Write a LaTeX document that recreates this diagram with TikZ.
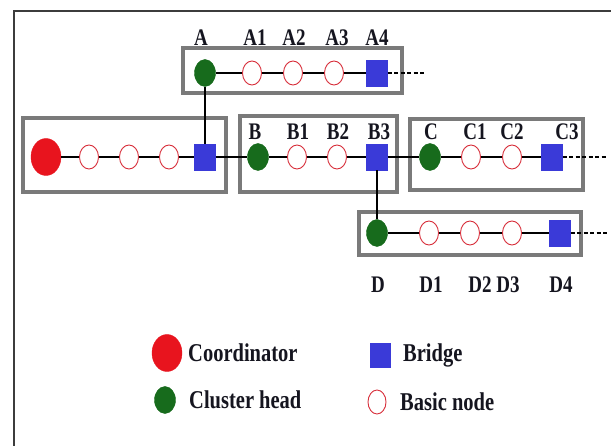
\documentclass[tikz,border=0pt]{standalone}
\usepackage{fontspec}
\setmainfont{Liberation Serif}
\usetikzlibrary{shapes.geometric}
\definecolor{coordred}{HTML}{E8141E}
\definecolor{headgreen}{HTML}{176B1C}
\definecolor{bridgeblue}{HTML}{3A3AD8}
\definecolor{basicred}{HTML}{D8303C}
\definecolor{boxgray}{HTML}{7A7A7A}
\definecolor{framegray}{HTML}{3C3C3C}
\definecolor{inkdark}{HTML}{15151F}
\tikzset{
  coordnode/.style={ellipse, fill=coordred, draw=coordred, minimum width=30pt, minimum height=37pt, inner sep=0pt},
  headnode/.style={ellipse, fill=headgreen, draw=headgreen, minimum width=21pt, minimum height=27pt, inner sep=0pt},
  bridgenode/.style={rectangle, fill=bridgeblue, draw=bridgeblue, minimum width=21pt, minimum height=26pt, inner sep=0pt},
  basicnode/.style={ellipse, fill=white, draw=basicred, line width=0.9pt, minimum width=19pt, minimum height=24pt, inner sep=0pt},
  clusterbox/.style={draw=boxgray, line width=4pt},
  link/.style={draw=black, line width=1.3pt},
  openlink/.style={draw=black, line width=1.3pt, dash pattern=on 4pt off 2.5pt},
  lbl/.style={font=\bfseries\fontsize{19}{19}\selectfont, inner sep=0pt, text=inkdark},
  legendtxt/.style={font=\bfseries\fontsize{20.5}{20.5}\selectfont, inner sep=0pt, anchor=west, text=inkdark},
}
\newcommand{\tall}[1]{\scalebox{1}[1.25]{#1}}
\begin{document}
\begin{tikzpicture}[x=1pt, y=-1pt]
  \useasboundingbox (0,0) rectangle (611,446);
  \fill[white] (0,0) rectangle (611,446);
  % outer frame (top and left edges)
  \draw[framegray, line width=2pt] (14,446) -- (14,11) -- (611,11);

  % cluster boxes
  \draw[clusterbox] (183,48) rectangle (402,93);
  \draw[clusterbox] (23,118) rectangle (226,192);
  \draw[clusterbox] (240,116) rectangle (397,192);
  \draw[clusterbox] (410,119) rectangle (583,190);
  \draw[clusterbox] (359,212) rectangle (581,255);

  % cluster A
  \node[headnode]   (A)  at (205,73) {};
  \node[basicnode]  (A1) at (252,73) {};
  \node[basicnode]  (A2) at (293,73) {};
  \node[basicnode]  (A3) at (334,73) {};
  \node[bridgenode] (A4) at (377,73) {};
  \coordinate (Aend) at (426,73);

  % coordinator cluster
  \node[coordnode]  (K)  at (46,157) {};
  \node[basicnode]  (K1) at (89,157) {};
  \node[basicnode]  (K2) at (129,157) {};
  \node[basicnode]  (K3) at (169,157) {};
  \node[bridgenode] (K4) at (205,157) {};

  % cluster B
  \node[headnode]   (B)  at (258,157) {};
  \node[basicnode]  (B1) at (297,157) {};
  \node[basicnode]  (B2) at (337,157) {};
  \node[bridgenode] (B3) at (377,157) {};

  % cluster C
  \node[headnode]   (C)  at (430,157) {};
  \node[basicnode]  (C1) at (471,157) {};
  \node[basicnode]  (C2) at (512,157) {};
  \node[bridgenode] (C3) at (552,157) {};
  \coordinate (Cend) at (608,157);

  % cluster D
  \node[headnode]   (D)  at (377,233) {};
  \node[basicnode]  (D1) at (429,233) {};
  \node[basicnode]  (D2) at (470,233) {};
  \node[basicnode]  (D3) at (512,233) {};
  \node[bridgenode] (D4) at (560,233) {};
  \coordinate (Dend) at (608,233);

  % links
  \draw[link] (A) -- (A1) -- (A2) -- (A3) -- (A4);
  \draw[openlink] (A4.east) -- (Aend);
  \draw[link] (A.south) -- (K4.north);
  \draw[link] (K) -- (K1) -- (K2) -- (K3) -- (K4) -- (B) -- (B1) -- (B2) -- (B3) -- (C) -- (C1) -- (C2) -- (C3);
  \draw[openlink] (C3.east) -- (Cend);
  \draw[link] (B3.south) -- (D.north);
  \draw[link] (D) -- (D1) -- (D2) -- (D3) -- (D4);
  \draw[openlink] (D4.east) -- (Dend);

  % labels
  \node[lbl] (lA)  at (201,38) {\tall{A}};
  \node[lbl] (lA1) at (255,38) {\tall{A1}};
  \node[lbl] (lA2) at (294,38) {\tall{A2}};
  \node[lbl] (lA3) at (337,38) {\tall{A3}};
  \node[lbl] (lA4) at (377,38) {\tall{A4}};
  \node[lbl] (lB)  at (255,132) {\tall{B}};
  \node[lbl] (lB1) at (298,132) {\tall{B1}};
  \node[lbl] (lB2) at (338,132) {\tall{B2}};
  \node[lbl] (lB3) at (379,132) {\tall{B3}};
  \node[lbl] (lC)  at (431,132) {\tall{C}};
  \node[lbl] (lC1) at (475,132) {\tall{C1}};
  \node[lbl] (lC2) at (512,132) {\tall{C2}};
  \node[lbl] (lC3) at (567,132) {\tall{C3}};
  \node[lbl] (lD)  at (378,285) {\tall{D}};
  \node[lbl] (lD1) at (431,285) {\tall{D1}};
  \node[lbl] (lD2) at (480,285) {\tall{D2}};
  \node[lbl] (lD3) at (508,285) {\tall{D3}};
  \node[lbl] (lD4) at (561,285) {\tall{D4}};

  % legend
  \node[coordnode]  (gK) at (167,353) {};
  \node[legendtxt]  (tK) at (188,353) {\tall{Coordinator}};
  \node[headnode]   (gH) at (165,400) {};
  \node[legendtxt]  (tH) at (189,400) {\tall{Cluster head}};
  \node[bridgenode, minimum width=20pt, minimum height=24pt] (gB) at (380,355) {};
  \node[legendtxt]  (tB) at (403,355) {\tall{Bridge}};
  \node[basicnode, minimum width=18pt, minimum height=24pt] (gN) at (377,402) {};
  \node[legendtxt]  (tN) at (400,402) {\tall{Basic node}};
\end{tikzpicture}
\end{document}
